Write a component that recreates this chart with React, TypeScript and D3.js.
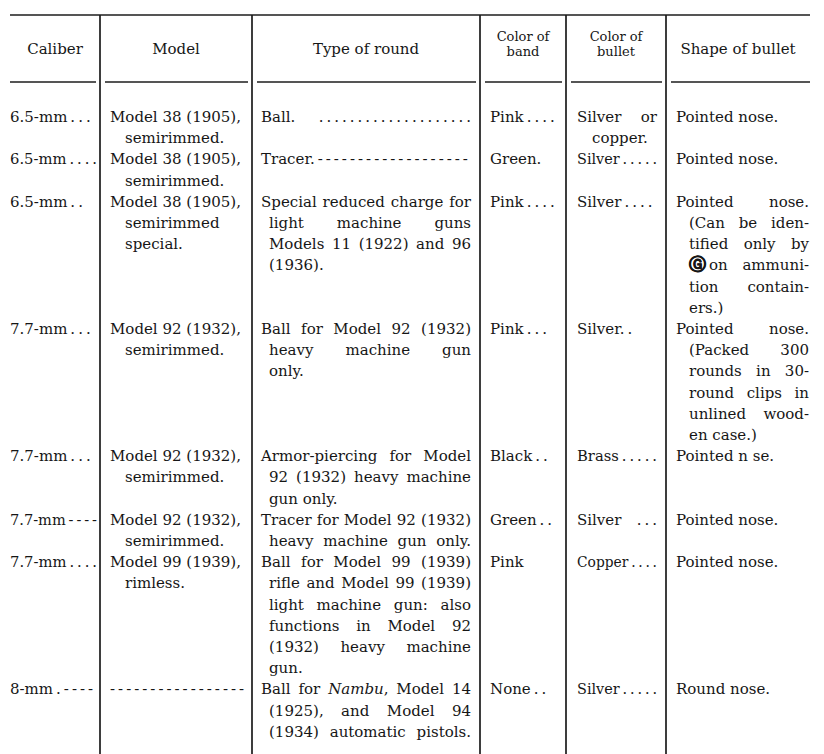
import React from "react";
import * as d3 from "d3";

// leader characters, as printed between a label and the next column
const dots = (n: number) => "\u2009.".repeat(n);
const dashes = (n: number) => "\u2009-".repeat(n);

const headers: string[][] = [
  ["Caliber"],
  ["Model"],
  ["Type of round"],
  ["Color of", "band"],
  ["Color of", "bullet"],
  ["Shape of bullet"],
];

const calibers: string[] = [
  "6.5-mm" + dots(3),
  "6.5-mm" + dots(4),
  "6.5-mm" + dots(2),
  "7.7-mm" + dots(3),
  "7.7-mm" + dots(3),
  "7.7-mm" + dashes(4),
  "7.7-mm" + dots(4),
  "8-mm" + dots(1) + dashes(4),
];

const models: string[][] = [
  ["Model 38 (1905),", "semirimmed."],
  ["Model 38 (1905),", "semirimmed."],
  ["Model 38 (1905),", "semirimmed", "special."],
  ["Model 92 (1932),", "semirimmed."],
  ["Model 92 (1932),", "semirimmed."],
  ["Model 92 (1932),", "semirimmed."],
  ["Model 99 (1939),", "rimless."],
  [dashes(17).trim()],
];

const roundTypes: string[][] = [
  ["Ball. " + dots(20)],
  ["Tracer." + dashes(19)],
  ["Special reduced charge for", "light machine guns", "Models 11 (1922) and 96", "(1936)."],
  ["Ball for Model 92 (1932)", "heavy machine gun", "only."],
  ["Armor-piercing for Model", "92 (1932) heavy machine", "gun only."],
  ["Tracer for Model 92 (1932)", "heavy machine gun only."],
  [
    "Ball for Model 99 (1939)",
    "rifle and Model 99 (1939)",
    "light machine gun: also",
    "functions in Model 92",
    "(1932) heavy machine",
    "gun.",
  ],
  ["Ball for *Nambu*, Model 14", "(1925), and Model 94", "(1934) automatic pistols."],
];

const bandColors: string[] = [
  "Pink" + dots(4),
  "Green.",
  "Pink" + dots(4),
  "Pink" + dots(3),
  "Black" + dots(2),
  "Green" + dots(2),
  "Pink",
  "None" + dots(2),
];

const bulletColors: string[][] = [
  ["Silver or", "copper."],
  ["Silver" + dots(5)],
  ["Silver" + dots(4)],
  ["Silver." + dots(1)],
  ["Brass" + dots(5)],
  ["Silver  " + dots(3)],
  ["Copper" + dots(4)],
  ["Silver" + dots(5)],
];

const bulletShapes: string[][] = [
  ["Pointed nose."],
  ["Pointed nose."],
  ["Pointed nose.", "(Can be iden-", "tified only by", "Ⓖ\u2009on ammuni-", "tion contain-", "ers.)"],
  ["Pointed nose.", "(Packed 300", "rounds in 30-", "round clips in", "unlined wood-", "en case.)"],
  ["Pointed n se."],
  ["Pointed nose."],
  ["Pointed nose."],
  ["Round nose."],
];

const WIDTH = 824;
const HEIGHT = 754;
const FONT = "'DejaVu Serif', serif";
const FS = 15;
const INK = "#161616";
const RULE = "#1c1c1c";

const colEdges = [10, 100, 252, 480, 566, 666, 810];
const colText = [
  { first: 10, cont: 22, right: 97, justify: false },
  { first: 110, cont: 125, right: 248, justify: false },
  { first: 261, cont: 269, right: 471, justify: true },
  { first: 490, cont: 500, right: 562, justify: false },
  { first: 577, cont: 592, right: 657, justify: true },
  { first: 676, cont: 689, right: 809, justify: true },
];

let ctx: CanvasRenderingContext2D | null = null;
function measure(text: string, italic: boolean, bold: boolean) {
  if (!ctx) ctx = document.createElement("canvas").getContext("2d");
  if (!ctx) return text.length * FS * 0.55;
  ctx.font = bold
    ? `bold ${FS + 2}px 'DejaVu Sans', sans-serif`
    : `${italic ? "italic " : ""}${FS}px ${FONT}`;
  return ctx.measureText(text).width;
}

type Seg = { t: string; italic: boolean; bold: boolean };
function parse(line: string): Seg[] {
  const out: Seg[] = [];
  line.split(/(\*[^*]+\*)/).forEach((chunk) => {
    if (!chunk) return;
    if (chunk.length > 1 && chunk.startsWith("*") && chunk.endsWith("*")) {
      out.push({ t: chunk.slice(1, -1), italic: true, bold: false });
      return;
    }
    chunk.split(/(Ⓖ)/).forEach((p) => {
      if (p) out.push({ t: p, italic: false, bold: p === "Ⓖ" });
    });
  });
  return out;
}

const rows = d3.range(calibers.length);
const cells = rows.map((i) => [
  [calibers[i]],
  models[i],
  roundTypes[i],
  [bandColors[i]],
  bulletColors[i],
  bulletShapes[i],
]);
const rowLines = cells.map((c) => d3.max(c, (cell) => cell.length) || 1);
const rowStart = [0, ...Array.from(d3.cumsum(rowLines))];

// line index -> vertical centre of the text line
const yLine = d3.scaleLinear().domain([0, 1]).range([117, 138.2]);
const headerTop = 15;
const headerRule = 82;

function Line({ text, x, right, justify, isLast, cy }: any) {
  const segs = parse(text);
  const natural = d3.sum(segs, (s) => measure(s.t, s.italic, s.bold));
  const target = right - x;
  const spaces = (text.match(/ /g) || []).length;
  const doJustify = justify && (!isLast || natural >= 0.86 * target);
  const ws =
    doJustify && spaces > 0 && target > natural ? (target - natural) / spaces : 0;
  const squeeze = natural > target + 1;
  return (
    <text
      x={x}
      y={cy + 5}
      fontFamily={FONT}
      fontSize={FS}
      fill={INK}
      wordSpacing={ws || undefined}
      textLength={squeeze ? target : undefined}
      lengthAdjust={squeeze ? "spacingAndGlyphs" : undefined}
      style={{ whiteSpace: "pre" }}
    >
      {segs.map((s, k) => (
        <tspan
          key={k}
          fontStyle={s.italic ? "italic" : undefined}
          fontWeight={s.bold ? "bold" : undefined}
          fontFamily={s.bold ? "'DejaVu Sans', sans-serif" : undefined}
          fontSize={s.bold ? FS + 2 : undefined}
          stroke={s.bold ? INK : undefined}
          strokeWidth={s.bold ? 0.5 : undefined}
        >
          {s.t}
        </tspan>
      ))}
    </text>
  );
}

export default function App() {
  return (
    <div
      style={{
        position: "absolute",
        left: 0,
        top: 0,
        width: WIDTH,
        height: HEIGHT,
        background: "#fff",
      }}
    >
      <svg width={WIDTH} height={HEIGHT} style={{ display: "block" }}>
        <rect width={WIDTH} height={HEIGHT} fill="#fff" />

        {/* rules */}
        <line
          x1={colEdges[0]}
          x2={colEdges[colEdges.length - 1]}
          y1={headerTop}
          y2={headerTop}
          stroke={RULE}
          strokeWidth={1.6}
        />
        {d3.pairs(colEdges).map(([a, b], i) => (
          <line
            key={"hr" + i}
            x1={i === 0 ? a : a + 5}
            x2={i === colEdges.length - 2 ? b : b - 4}
            y1={headerRule}
            y2={headerRule}
            stroke={RULE}
            strokeWidth={1.6}
          />
        ))}
        {colEdges.slice(1, -1).map((x, i) => (
          <line
            key={"v" + i}
            x1={x}
            x2={x}
            y1={headerTop}
            y2={HEIGHT}
            stroke={RULE}
            strokeWidth={1.7}
          />
        ))}

        {/* header */}
        {headers.map((h, i) => {
          const cx = (colEdges[i] + colEdges[i + 1]) / 2;
          const two = h.length > 1;
          return h.map((t, j) => (
            <text
              key={"h" + i + j}
              x={cx}
              y={two ? 41 + j * 15 : 54}
              textAnchor="middle"
              fontFamily={FONT}
              fontSize={two ? 13 : FS}
              fill={INK}
            >
              {t}
            </text>
          ));
        })}

        {/* body */}
        {cells.map((row, r) =>
          row.map((cell, c) =>
            cell.map((t, j) => {
              const cfg = colText[c];
              const x = j === 0 ? cfg.first : cfg.cont;
              return (
                <Line
                  key={`${r}-${c}-${j}`}
                  text={t}
                  x={x}
                  right={cfg.right}
                  justify={cfg.justify}
                  isLast={j === cell.length - 1}
                  cy={yLine(rowStart[r] + j)}
                />
              );
            })
          )
        )}
      </svg>
    </div>
  );
}
